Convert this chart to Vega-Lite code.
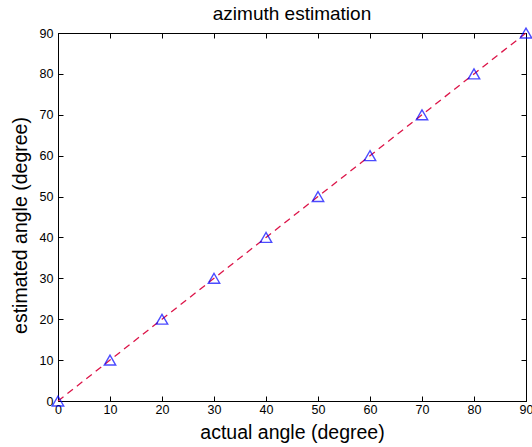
{
  "$schema": "https://vega.github.io/schema/vega-lite/v6.json",
  "width": 468,
  "height": 368,
  "autosize": {"type": "none"},
  "padding": {"left": 58, "top": 33, "right": 6, "bottom": 46},
  "title": {"text": "azimuth estimation", "font": "Liberation Sans", "fontSize": 19, "fontWeight": "normal", "color": "black", "offset": 1},
  "config": {
    "view": {"stroke": "black", "strokeWidth": 1},
    "axis": {"labelFont": "Liberation Sans", "titleFont": "Liberation Sans", "labelFontSize": 12.5, "titleFontSize": 19.5, "titleFontWeight": "normal", "labelColor": "black", "titleColor": "black", "domainColor": "black", "tickColor": "black", "grid": false, "tickSize": -5, "labelPadding": 9, "labelFlush": false, "labelOverlap": false}
  },
  "data": {"values": [
    {"actual": 0, "est": 0},
    {"actual": 10, "est": 10},
    {"actual": 20, "est": 20},
    {"actual": 30, "est": 30},
    {"actual": 40, "est": 40},
    {"actual": 50, "est": 50},
    {"actual": 60, "est": 60},
    {"actual": 70, "est": 70},
    {"actual": 80, "est": 80},
    {"actual": 90, "est": 90}
  ]},
  "layer": [
    {
      "mark": {"type": "line", "color": "#dc1448", "strokeDash": [7, 5], "strokeWidth": 1.3, "clip": false},
      "encoding": {
        "x": {"field": "actual", "type": "quantitative", "scale": {"domain": [0, 90], "nice": false}, "axis": {"title": "actual angle (degree)", "values": [0,10,20,30,40,50,60,70,80,90], "labelPadding": 7, "titlePadding": 8}},
        "y": {"field": "est", "type": "quantitative", "scale": {"domain": [0, 90], "nice": false}, "axis": {"title": "estimated angle (degree)", "values": [0,10,20,30,40,50,60,70,80,90], "labelPadding": 10, "titlePadding": 9, "titleY": 192}}
      }
    },
    {
      "mark": {"type": "point", "shape": "triangle-up", "color": "#0000ff", "filled": false, "size": 130, "strokeWidth": 1.4, "clip": false},
      "encoding": {
        "x": {"field": "actual", "type": "quantitative", "axis": {"orient": "top", "title": null, "labels": false, "values": [0,10,20,30,40,50,60,70,80,90]}},
        "y": {"field": "est", "type": "quantitative", "axis": {"orient": "right", "title": null, "labels": false, "values": [0,10,20,30,40,50,60,70,80,90]}}
      }
    }
  ],
  "resolve": {"axis": {"x": "independent", "y": "independent"}}
}
